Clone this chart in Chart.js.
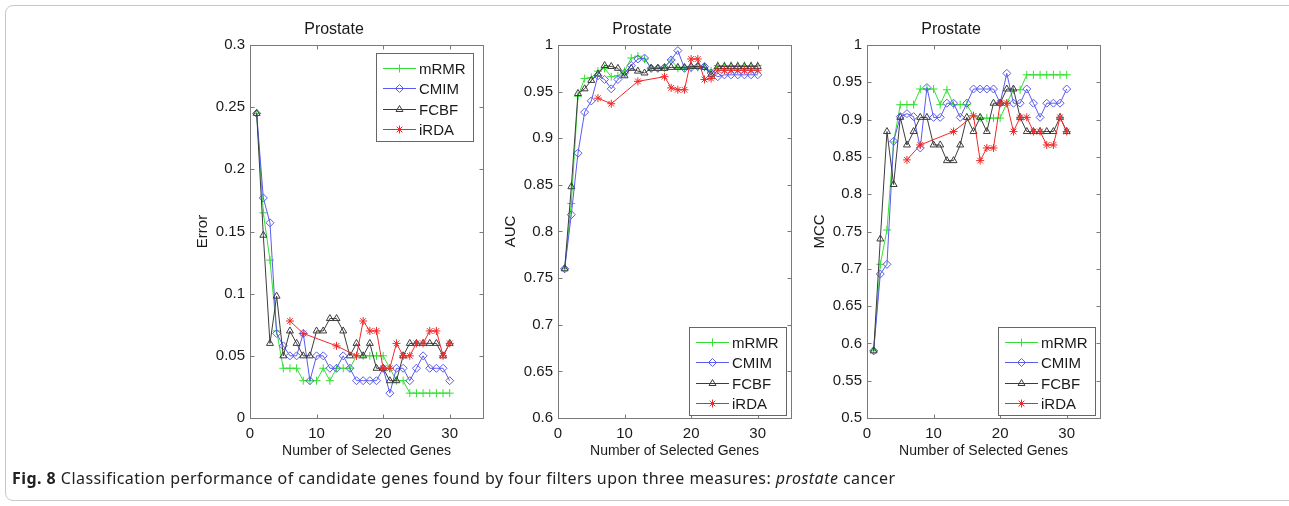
<!DOCTYPE html>
<html>
<head>
<meta charset="utf-8">
<script src="https://cdn.jsdelivr.net/npm/chart.js@4.4.1/dist/chart.umd.min.js"></script>
<style>
  body { margin: 0; background: #fff; width: 1289px; height: 506px; overflow: hidden; position: relative; }
  #marco { position: absolute; left: 5px; top: 5px; width: 1300px; height: 494px; border: 1px solid #c8c8c8; border-radius: 8px; }
  canvas { position: absolute; top: 0; }
  #pie { position: absolute; left: 12px; top: 467px; font-family: "Noto Sans", sans-serif; font-size: 16px; letter-spacing: 0.45px; color: #222; white-space: nowrap; }
</style>
</head>
<body>
<div id="marco"></div>
<canvas id="c1" width="363" height="468" style="left:185px"></canvas>
<canvas id="c2" width="363" height="468" style="left:493px"></canvas>
<canvas id="c3" width="363" height="468" style="left:802px"></canvas>
<div id="pie"><b>Fig. 8</b> Classification performance of candidate genes found by four filters upon three measures: <i>prostate</i> cancer</div>
<script>
// datos
const filtros = ["mRMR", "CMIM", "FCBF", "iRDA"];
const genes = [1, 2, 3, 4, 5, 6, 7, 8, 9, 10, 11, 12, 13, 14, 15, 16, 17, 18, 19, 20, 21, 22, 23, 24, 25, 26, 27, 28, 29, 30];
const genesIrda = [6, 8, 13, 16, 17, 18, 19, 20, 21, 22, 23, 24, 25, 26, 27, 28, 29, 30];
const genesIrdaAuc = [6, 8, 12, 16, 17, 18, 19, 20, 21, 22, 23, 24, 25, 26, 27, 28, 29, 30];
const ticksX = [0, 10, 20, 30];

const errorMrmr = [0.245, 0.165, 0.127, 0.07, 0.04, 0.04, 0.04, 0.03, 0.03, 0.03, 0.04, 0.03, 0.04, 0.04, 0.04, 0.05, 0.05, 0.05, 0.05, 0.05, 0.04, 0.03, 0.03, 0.02, 0.02, 0.02, 0.02, 0.02, 0.02, 0.02];
const errorCmim = [0.245, 0.177, 0.157, 0.068, 0.058, 0.05, 0.05, 0.068, 0.03, 0.05, 0.05, 0.04, 0.04, 0.05, 0.04, 0.03, 0.03, 0.03, 0.03, 0.04, 0.02, 0.04, 0.04, 0.03, 0.04, 0.05, 0.04, 0.04, 0.04, 0.03];
const errorFcbf = [0.245, 0.147, 0.06, 0.098, 0.05, 0.07, 0.06, 0.05, 0.05, 0.07, 0.07, 0.08, 0.08, 0.07, 0.05, 0.06, 0.05, 0.06, 0.04, 0.04, 0.03, 0.03, 0.05, 0.06, 0.06, 0.06, 0.06, 0.06, 0.05, 0.06];
const errorIrda = [0.078, 0.068, 0.058, 0.05, 0.078, 0.07, 0.07, 0.04, 0.04, 0.06, 0.05, 0.05, 0.06, 0.06, 0.07, 0.07, 0.05, 0.06];
const ticksError = [0, 0.05, 0.1, 0.15, 0.2, 0.25, 0.3];

const aucMrmr = [0.76, 0.83, 0.945, 0.964, 0.965, 0.972, 0.975, 0.966, 0.967, 0.972, 0.986, 0.988, 0.985, 0.975, 0.975, 0.976, 0.984, 0.975, 0.975, 0.975, 0.976, 0.976, 0.972, 0.978, 0.978, 0.978, 0.978, 0.978, 0.978, 0.978];
const aucCmim = [0.76, 0.818, 0.884, 0.928, 0.94, 0.967, 0.963, 0.953, 0.963, 0.97, 0.978, 0.985, 0.986, 0.975, 0.975, 0.976, 0.984, 0.994, 0.975, 0.976, 0.977, 0.977, 0.97, 0.966, 0.968, 0.968, 0.968, 0.968, 0.968, 0.968];
const aucFcbf = [0.76, 0.848, 0.948, 0.953, 0.962, 0.969, 0.978, 0.977, 0.975, 0.967, 0.975, 0.972, 0.97, 0.975, 0.975, 0.975, 0.976, 0.976, 0.976, 0.977, 0.977, 0.976, 0.968, 0.977, 0.977, 0.977, 0.977, 0.977, 0.977, 0.977];
const aucIrda = [0.943, 0.937, 0.961, 0.966, 0.954, 0.952, 0.952, 0.985, 0.985, 0.963, 0.964, 0.973, 0.973, 0.973, 0.973, 0.973, 0.973, 0.973];
const ticksAuc = [0.6, 0.65, 0.7, 0.75, 0.8, 0.85, 0.9, 0.95, 1];

const mccMrmr = [0.59, 0.706, 0.752, 0.87, 0.92, 0.92, 0.92, 0.941, 0.941, 0.941, 0.92, 0.94, 0.92, 0.92, 0.92, 0.905, 0.902, 0.902, 0.902, 0.902, 0.922, 0.94, 0.94, 0.96, 0.96, 0.96, 0.96, 0.96, 0.96, 0.96];
const mccCmim = [0.59, 0.693, 0.706, 0.871, 0.904, 0.908, 0.904, 0.862, 0.943, 0.903, 0.903, 0.922, 0.922, 0.903, 0.922, 0.941, 0.941, 0.941, 0.941, 0.922, 0.962, 0.922, 0.922, 0.941, 0.922, 0.903, 0.922, 0.922, 0.922, 0.941];
const mccFcbf = [0.59, 0.74, 0.884, 0.813, 0.903, 0.866, 0.884, 0.903, 0.903, 0.866, 0.866, 0.845, 0.845, 0.866, 0.903, 0.884, 0.903, 0.884, 0.922, 0.922, 0.941, 0.941, 0.903, 0.884, 0.884, 0.884, 0.884, 0.884, 0.903, 0.884];
const mccIrda = [0.846, 0.866, 0.884, 0.905, 0.845, 0.862, 0.862, 0.922, 0.922, 0.884, 0.903, 0.903, 0.884, 0.884, 0.866, 0.866, 0.903, 0.884];
const ticksMcc = [0.5, 0.55, 0.6, 0.65, 0.7, 0.75, 0.8, 0.85, 0.9, 0.95, 1];

const colores = ["#33e033", "#5a5af0", "#3c3c3c", "#f02828"];
const marcas = ["cross", "rectRot", "triangle", "star"];
const fuente = '"Liberation Sans", Arial, sans-serif';
const colorTexto = "#1a1a1a";

const puntos = (xs, ys) => xs.map((x, i) => ({ x: x, y: ys[i] }));

// caja con ticks hacia dentro, estilo matlab
const marco = {
  id: "marco",
  afterDatasetsDraw(chart) {
    const { ctx, chartArea: a } = chart;
    const sx = chart.scales.x, sy = chart.scales.y;
    const l = Math.round(a.left) + 0.5, r = Math.round(a.right) + 0.5;
    const t = Math.round(a.top) + 0.5, b = Math.round(a.bottom) + 0.5;
    ctx.save();
    ctx.strokeStyle = "#7a7a7a";
    ctx.lineWidth = 1;
    ctx.strokeRect(l, t, r - l, b - t);
    ctx.beginPath();
    for (const tk of sx.ticks) {
      const px = Math.round(sx.getPixelForValue(tk.value)) + 0.5;
      ctx.moveTo(px, b); ctx.lineTo(px, b - 4);
      ctx.moveTo(px, t); ctx.lineTo(px, t + 4);
    }
    for (const tk of sy.ticks) {
      const py = Math.round(sy.getPixelForValue(tk.value)) + 0.5;
      ctx.moveTo(l, py); ctx.lineTo(l + 4, py);
      ctx.moveTo(r, py); ctx.lineTo(r - 4, py);
    }
    ctx.stroke();
    ctx.restore();
  }
};

const leyenda = {
  id: "leyenda",
  afterDraw(chart, args, opts) {
    const { ctx, chartArea: a } = chart;
    const w = 97, h = 88;
    const x0 = Math.round(a.right - w - (opts.arriba ? 10 : 5));
    const y0 = Math.round(opts.arriba ? a.top + 8 : a.bottom - h - 3);
    ctx.save();
    ctx.fillStyle = "#fff";
    ctx.fillRect(x0, y0, w, h);
    ctx.strokeStyle = "#666";
    ctx.lineWidth = 1;
    ctx.strokeRect(x0 + 0.5, y0 + 0.5, w, h);
    ctx.font = "15px " + fuente;
    ctx.textBaseline = "middle";
    filtros.forEach((nombre, i) => {
      const y = Math.round(y0 + 15 + i * 20.3) + 0.5;
      ctx.lineWidth = 1;
      ctx.strokeStyle = colores[i];
      ctx.beginPath();
      ctx.moveTo(x0 + 7, y);
      ctx.lineTo(x0 + 40, y);
      ctx.stroke();
      ctx.strokeStyle = colores[i];
      ctx.fillStyle = "rgba(255,255,255,0)";
      Chart.helpers.drawPoint(ctx, { pointStyle: marcas[i], radius: 4, borderWidth: 1, rotation: 0 }, x0 + 23.5, y);
      ctx.fillStyle = colorTexto;
      ctx.fillText(nombre, x0 + 43, y + 1);
    });
    ctx.restore();
  }
};

function hacerGrafica(id, etiqueta, series, ejesX, ticksY, arriba) {
  const datasets = series.map((s, i) => ({
    label: filtros[i],
    data: puntos(ejesX[i], s),
    borderColor: colores[i],
    backgroundColor: "rgba(0,0,0,0)",
    borderWidth: 1,
    pointStyle: marcas[i],
    pointRadius: 4,
    pointBorderWidth: 1,
    pointBorderColor: colores[i],
    pointBackgroundColor: "rgba(0,0,0,0)",
    tension: 0,
    order: 4 - i
  }));
  return new Chart(document.getElementById(id), {
    type: "line",
    data: { datasets: datasets },
    options: {
      responsive: false,
      animation: false,
      // padding derecho igual al ancho del eje y, asi el titulo queda centrado sobre el area
      layout: { padding: { right: 65 } },
      plugins: {
        legend: { display: false },
        tooltip: { enabled: false },
        title: {
          display: true,
          text: "Prostate",
          color: colorTexto,
          font: { family: fuente, size: 16, weight: "normal", lineHeight: 1 },
          padding: { top: 22, bottom: 7 }
        },
        leyenda: { arriba: arriba }
      },
      scales: {
        x: {
          type: "linear",
          min: 0,
          max: 35,
          afterBuildTicks: (s) => { s.ticks = ticksX.map((v) => ({ value: v })); },
          afterFit: (s) => { s.height = 50; },
          grid: { display: false, drawTicks: false },
          border: { display: false },
          ticks: { color: colorTexto, font: { family: fuente, size: 15 }, padding: 7, maxRotation: 0 },
          title: { display: true, text: "Number of Selected Genes", color: colorTexto, font: { family: fuente, size: 14 }, padding: { bottom: 8 } }
        },
        y: {
          min: ticksY[0],
          max: ticksY[ticksY.length - 1],
          afterBuildTicks: (s) => { s.ticks = ticksY.map((v) => ({ value: v })); },
          afterFit: (s) => { s.width = 65; },
          grid: { display: false, drawTicks: false },
          border: { display: false },
          ticks: { color: colorTexto, font: { family: fuente, size: 15 }, padding: 5, callback: (v) => String(v) },
          title: { display: true, text: etiqueta, color: colorTexto, font: { family: fuente, size: 15 }, padding: { top: 9 } }
        }
      }
    },
    plugins: [marco, leyenda]
  });
}

hacerGrafica("c1", "Error", [errorMrmr, errorCmim, errorFcbf, errorIrda], [genes, genes, genes, genesIrda], ticksError, true);
hacerGrafica("c2", "AUC", [aucMrmr, aucCmim, aucFcbf, aucIrda], [genes, genes, genes, genesIrdaAuc], ticksAuc, false);
hacerGrafica("c3", "MCC", [mccMrmr, mccCmim, mccFcbf, mccIrda], [genes, genes, genes, genesIrda], ticksMcc, false);
</script>
</body>
</html>
